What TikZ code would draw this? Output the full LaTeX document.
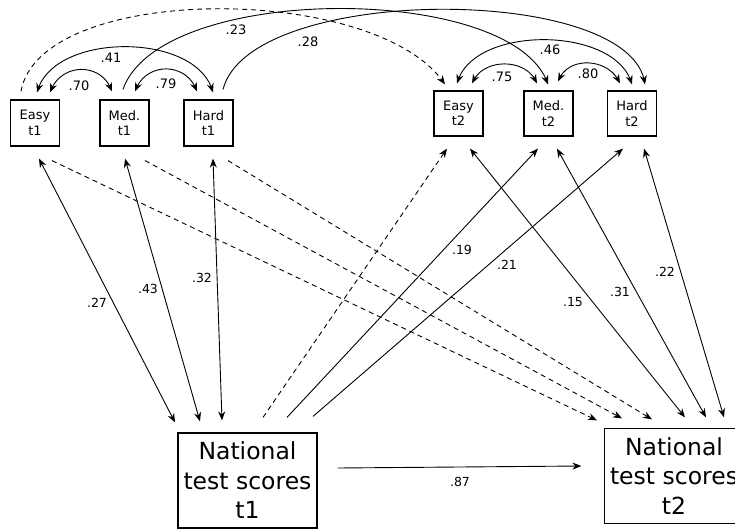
\documentclass[tikz,border=0pt]{standalone}
\usepackage{fontspec}
\setmainfont{DejaVu Sans}
\usetikzlibrary{arrows.meta,bending}
\begin{document}
\begin{tikzpicture}[x=1pt,y=-1pt,
  sbox/.style={draw,line width=1.2pt,minimum width=49pt,inner sep=0pt,align=center,font=\fontsize{13}{15.5}\selectfont},
  bbox/.style={draw,line width=1.2pt,minimum width=139pt,minimum height=95pt,inner sep=0pt,align=center,font=\fontsize{23.5}{29.5}\selectfont},
  lab/.style={inner sep=0pt,font=\fontsize{12.5}{14}\selectfont},
  toplab/.style={inner sep=0pt,font=\fontsize{13}{15}\selectfont},
  conn/.style={line width=0.9pt},
  one/.style={conn,-{Stealth[length=9pt,width=7pt]}},
  two/.style={conn,{Stealth[length=9pt,width=7pt]}-{Stealth[length=9pt,width=7pt]}},
  dsh/.style={dash pattern=on 5pt off 4pt}
]
\useasboundingbox (0,0) rectangle (735,529);

% boxes
\node[sbox,minimum height=46pt] (e1) at (35,123) {Easy\\t1};
\node[sbox,minimum height=46pt] (m1) at (124.5,123) {Med.\\t1};
\node[sbox,minimum height=46pt] (h1) at (208.5,123) {Hard\\t1};
\node[sbox,minimum height=45pt] (e2) at (458.5,113.5) {Easy\\t2};
\node[sbox,minimum height=45pt] (m2) at (548.5,113.5) {Med.\\t2};
\node[sbox,minimum height=45pt] (h2) at (632,113.5) {Hard\\t2};
\node[bbox] (n1) at (247.5,480.5) {National\\test scores\\t1};
\node[bbox] (n2) at (674,476) {National\\test scores\\t2};

% correlations within t1
\draw[two] ([shift={(15,-7)}]e1.north) .. controls +(10,-30) and +(-10,-30) .. ([shift={(-12.5,-8)}]m1.north);
\draw[two] ([shift={(10.5,-8)}]m1.north) .. controls +(10,-30) and +(-10,-30) .. ([shift={(-11.5,-8)}]h1.north);
\draw[two] ([shift={(2,-7)}]e1.north) .. controls +(15,-61) and +(-15,-61) .. ([shift={(4.5,-7)}]h1.north);

% correlations within t2
\draw[two] ([shift={(13.5,-7)}]e2.north) .. controls +(10,-26) and +(-10,-26) .. ([shift={(-11.5,-7)}]m2.north);
\draw[two] ([shift={(9.5,-9)}]m2.north) .. controls +(10,-27) and +(-10,-25) .. ([shift={(-12,-7)}]h2.north);
\draw[two] ([shift={(-1.5,-7)}]e2.north) .. controls +(15,-59) and +(-15,-59) .. ([shift={(0,-6)}]h2.north);

% stability paths t1 -> t2
\draw[one,dsh] ([shift={(-14,-8)}]e1.north) .. controls +(19,-109) and +(-67,-102) .. ([shift={(-13.5,-6)}]e2.north);
\draw[one] ([shift={(-1.5,-10)}]m1.north) .. controls +(37,-107) and +(-33,-102) .. ([shift={(-0.5,-6)}]m2.north);
\draw[one] ([shift={(14.5,-10)}]h1.north) .. controls +(27,-106) and +(-11,-101) .. ([shift={(13,-6)}]h2.north);

% t1 subscales <-> national t1
\draw[two] ([shift={(4,12)}]e1.south) -- ([shift={(-72.5,-10)}]n1.north);
\draw[two] ([shift={(0.5,12)}]m1.south) -- ([shift={(-47.5,-11)}]n1.north);
\draw[two] ([shift={(4.5,12)}]h1.south) -- ([shift={(-25.5,-12)}]n1.north);

% t1 subscales -> national t2 (dashed)
\draw[one,dsh] ([shift={(17,14)}]e1.south) -- ([shift={(-77,-7.5)}]n2.north);
\draw[one,dsh] ([shift={(20.5,14)}]m1.south) -- ([shift={(-52,-9.5)}]n2.north);
\draw[one,dsh] ([shift={(19.5,14)}]h1.south) -- ([shift={(-22,-8.5)}]n2.north);

% national t1 -> t2 subscales
\draw[one,dsh] ([shift={(15.5,-15)}]n1.north) -- ([shift={(-11.5,12)}]e2.south);
\draw[one] ([shift={(39.5,-15)}]n1.north) -- ([shift={(-10.5,12)}]m2.south);
\draw[one] ([shift={(65.5,-16)}]n1.north) -- ([shift={(-9,12)}]h2.south);

% t2 subscales <-> national t2
\draw[two] ([shift={(11.5,12)}]e2.south) -- ([shift={(11,-10.5)}]n2.north);
\draw[two] ([shift={(8.5,12)}]m2.south) -- ([shift={(32,-10.5)}]n2.north);
\draw[two] ([shift={(12,12)}]h2.south) -- ([shift={(50,-10.5)}]n2.north);

% national t1 -> national t2
\draw[one] ([shift={(20,-12.5)}]n1.east) -- ([shift={(-22.5,-10)}]n2.west);

% labels
\node[toplab] (l70) at (79,86) {.70};
\node[toplab] (l79) at (166,84) {.79};
\node[toplab] (l41) at (111,58) {.41};
\node[toplab] (l23) at (236,30) {.23};
\node[toplab] (l28) at (308,42) {.28};
\node[toplab] (l75) at (502,77) {.75};
\node[toplab] (l80) at (588,74) {.80};
\node[toplab] (l46) at (550,50) {.46};
\node[lab] (l27) at (97,303) {.27};
\node[lab] (l43) at (148,289) {.43};
\node[lab] (l32) at (202,278) {.32};
\node[lab] (l19) at (462,250) {.19};
\node[lab] (l21) at (507,265) {.21};
\node[lab] (l15) at (573,302) {.15};
\node[lab] (l31) at (620,292) {.31};
\node[lab] (l22) at (665,272) {.22};
\node[lab] (l87) at (460,482) {.87};
\end{tikzpicture}
\end{document}
